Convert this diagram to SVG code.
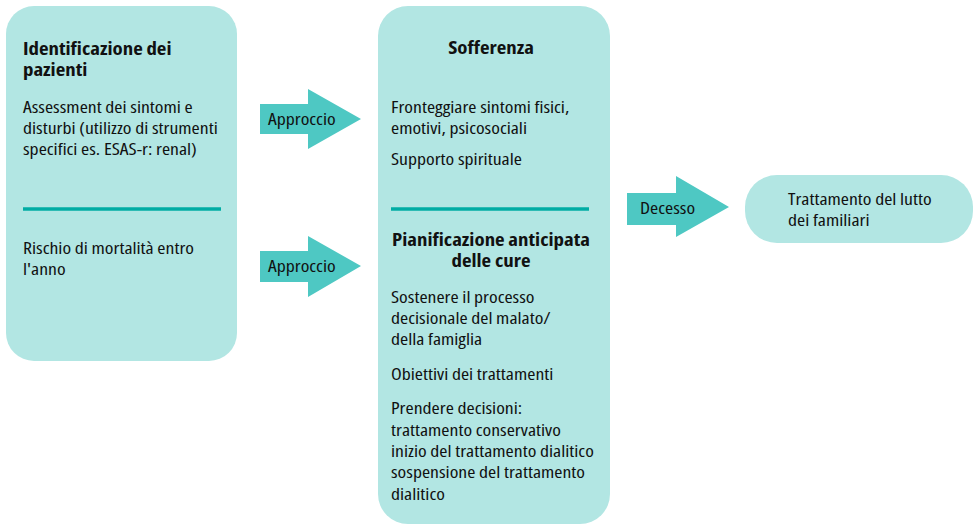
<svg xmlns="http://www.w3.org/2000/svg" width="978" height="527" viewBox="0 0 978 527">
<style>
.box{fill:#b2e6e3}
.arrow{fill:#4ec8c3}
.div{stroke:#00aca4;stroke-width:3.5}
text{font-family:"Open Sans","DejaVu Sans Condensed",sans-serif;font-stretch:condensed;fill:#111;font-size:17px}
.b{font-weight:bold;font-size:17px}
.c{text-anchor:middle}
</style>
<rect width="978" height="527" fill="#ffffff"/>
<g id="node-identificazione">
<rect class="box" x="6" y="6" width="231" height="355" rx="28"/>
<line class="div" x1="23" y1="209" x2="221" y2="209"/>
<g transform="matrix(1.228 0 0 1 -5.244 0)">
<text class="b" x="23" y="55">Identificazione dei<tspan x="23" y="76">pazienti</tspan></text>
</g>
<g transform="matrix(1.16 0 0 1 -3.68 0)">
<text x="23" y="113">Assessment dei sintomi e<tspan x="23" y="134">disturbi (utilizzo di strumenti</tspan><tspan x="23" y="155">specifici es. ESAS-r: renal)</tspan></text>
<text x="23" y="254">Rischio di mortalità entro<tspan x="23" y="275">l'anno</tspan></text>
</g>
</g>
<g id="node-centro">
<rect class="box" x="378" y="6" width="232" height="518" rx="30"/>
<line class="div" x1="391" y1="209" x2="589" y2="209"/>
<g transform="matrix(1.228 0 0 1 -111.948 0)">
<text class="b c" x="491" y="54">Sofferenza</text>
<text class="b c" x="491" y="246">Pianificazione anticipata<tspan x="491" y="267">delle cure</tspan></text>
</g>
<g transform="matrix(1.16 0 0 1 -62.56 0)">
<text x="391" y="113">Fronteggiare sintomi fisici,<tspan x="391" y="134">emotivi, psicosociali</tspan></text>
<text x="391" y="165">Supporto spirituale</text>
<text x="391" y="303">Sostenere il processo<tspan x="391" y="324">decisionale del malato/</tspan><tspan x="391" y="345">della famiglia</tspan></text>
<text x="391" y="380">Obiettivi dei trattamenti</text>
<text x="391" y="414">Prendere decisioni:<tspan x="391" y="436">trattamento conservativo</tspan><tspan x="391" y="457">inizio del trattamento dialitico</tspan><tspan x="391" y="478">sospensione del trattamento</tspan><tspan x="391" y="500">dialitico</tspan></text>
</g>
</g>
<g id="node-lutto">
<rect class="box" x="745" y="175" width="228" height="68" rx="32"/>
<g transform="matrix(1.16 0 0 1 -126.08 0)">
<text x="788" y="205">Trattamento del lutto<tspan x="788" y="226">dei familiari</tspan></text>
</g>
</g>
<g id="connectors">
<g id="arrow-approccio-1">
<polygon class="arrow" points="260,104 308,104 308,89 361,119 308,149 308,134 260,134"/>
<text x="268" y="125" transform="matrix(1.16 0 0 1 -42.88 0)">Approccio</text>
</g>
<g id="arrow-approccio-2">
<polygon class="arrow" points="260,251 308,251 308,236 361,266 308,297 308,282 260,282"/>
<text x="268" y="272" transform="matrix(1.16 0 0 1 -42.88 0)">Approccio</text>
</g>
<g id="arrow-decesso">
<polygon class="arrow" points="627,193 676,193 676,176 729,207 676,237 676,225 627,225"/>
<text x="640" y="214" transform="matrix(1.16 0 0 1 -102.4 0)">Decesso</text>
</g>
</g>
</svg>
